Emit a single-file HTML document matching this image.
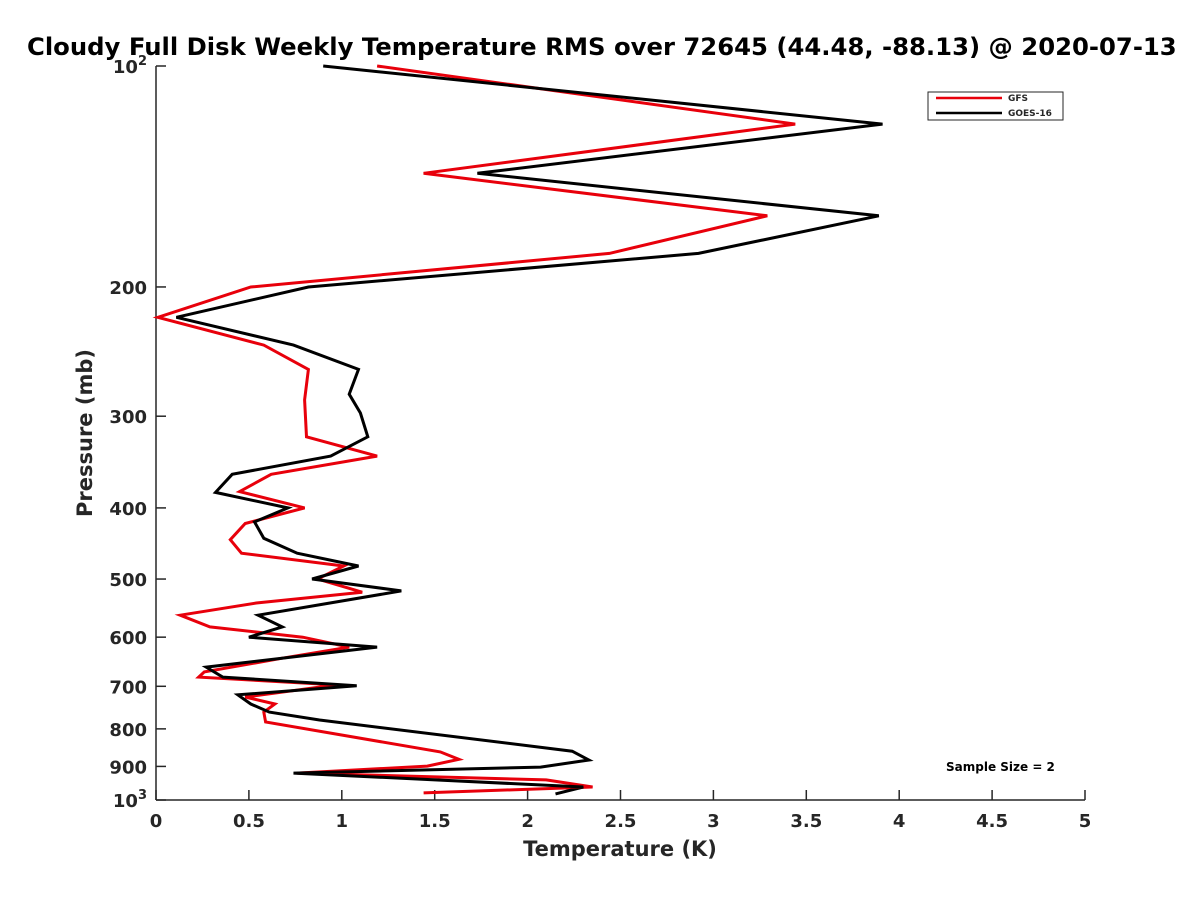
<!DOCTYPE html>
<html><head><meta charset="utf-8"><style>
body{margin:0;background:#fff}
svg text{font-family:"DejaVu Sans","Liberation Sans",sans-serif;font-weight:bold;fill:#262626}
</style></head><body>
<svg id="chart" width="1200" height="900" viewBox="0 0 1200 900" xmlns="http://www.w3.org/2000/svg">
<rect width="1200" height="900" fill="#fff"/>
<text x="27" y="55" font-size="24.3" style="fill:#000">Cloudy Full Disk Weekly Temperature RMS over 72645 (44.48, -88.13) @ 2020-07-13</text>
<g id="axes"></g>
<g id="series"></g>
<text x="620" y="856" font-size="21" text-anchor="middle">Temperature (K)</text>
<text transform="translate(92,433) rotate(-90)" font-size="21" text-anchor="middle">Pressure (mb)</text>
<g>
<rect x="928" y="92" width="135" height="28" fill="#fff" stroke="#262626" stroke-width="1"/>
<g><line x1="936" y1="98" x2="1002" y2="98" stroke="#e8000b" stroke-width="2.5"/><text x="1008" y="101" font-size="9">GFS</text></g>
<g><line x1="936" y1="113" x2="1002" y2="113" stroke="#000" stroke-width="2.5"/><text x="1008" y="116" font-size="9">GOES-16</text></g>
</g>
<text x="946" y="771" font-size="12" style="fill:#000">Sample Size = 2</text>
</svg>
<script>
const xTicks=[0,0.5,1,1.5,2,2.5,3,3.5,4,4.5,5];
const yTicks=[100,200,300,400,500,600,700,800,900,1000];
const yTickLabels=["10|2","200","300","400","500","600","700","800","900","10|3"];
const gfsT=[1.19,3.44,1.44,3.29,2.44,0.51,0.01,0.58,0.82,0.80,0.81,1.19,0.62,0.45,0.80,0.48,0.40,0.46,1.01,0.87,1.11,0.54,0.13,0.29,0.79,1.04,0.68,0.26,0.23,0.97,0.48,0.64,0.58,0.59,1.53,1.63,1.46,0.76,2.10,2.35,1.44];
const gfsP=[100,120,140,160,180,200,220,240,259,285,320,340,360,380,400,420,442,461,480,500,521,539,560,581,600,619,641,669,680,697,724,740,759,783,860,880,899,919,939,960,978];
const goesT=[0.90,3.91,1.73,3.89,2.92,0.82,0.11,0.74,1.09,1.04,1.10,1.14,0.94,0.41,0.32,0.71,0.53,0.58,0.76,1.09,0.84,1.32,0.55,0.68,0.50,1.19,0.27,0.36,1.08,0.44,0.51,0.61,0.88,2.24,2.33,2.07,0.74,2.30,2.15];
const goesP=[100,120,140,160,180,200,220,240,259,280,297,320,340,360,381,400,418,440,461,480,500,519,560,581,600,619,659,680,699,719,740,759,778,858,882,902,919,960,981];
const X0=156,X1=1085,Y0=66,Y1=800;
const xs=t=>X0+(t-0)/(5-0)*(X1-X0);
const ys=p=>Y0+(Math.log10(p)-2)*(Y1-Y0);
const NS="http://www.w3.org/2000/svg";
function mk(tag,attrs,parent){const e=document.createElementNS(NS,tag);for(const k in attrs)e.setAttribute(k,attrs[k]);parent.appendChild(e);return e;}
const ax=document.getElementById('axes');
let l=mk('line',{x1:X0,y1:Y0,x2:X0,y2:Y1,stroke:'#262626','stroke-width':1.5},ax);


l=mk('line',{x1:X0,y1:Y1,x2:X1,y2:Y1,stroke:'#262626','stroke-width':1.5},ax);


xTicks.forEach(t=>{const x=xs(t);
 const tk=mk('line',{x1:x,y1:Y1,x2:x,y2:Y1-10,stroke:'#262626','stroke-width':1.5},ax);
 
 
 const tx=mk('text',{x:x,y:Y1+27,'font-size':18,'text-anchor':'middle'},ax);tx.textContent=String(t);
 
 
});
yTicks.forEach((p,i)=>{const y=ys(p);
 const tk=mk('line',{x1:X0,y1:y,x2:X0+10,y2:y,stroke:'#262626','stroke-width':1.5},ax);
 
 
 const lab=yTickLabels[i];
 const tx=mk('text',{x:X0-9,y:y+7,'font-size':18,'text-anchor':'end'},ax);
 if(lab.indexOf('|')>=0){const parts=lab.split('|');
  const a=mk('tspan',{},tx);a.textContent=parts[0];
  const b=mk('tspan',{dy:-8,'font-size':13},tx);b.textContent=parts[1];
 } else tx.textContent=lab;
 
 
});
const sg=document.getElementById('series');
function line(T,P,color,name){
 const d=T.map((t,i)=>(i?'L':'M')+xs(t).toFixed(1)+','+ys(P[i]).toFixed(1)).join(' ');
 const pth=mk('path',{d:d,fill:'none',stroke:color,'stroke-width':3,'stroke-linejoin':'miter'},sg);
 
 
}
line(gfsT,gfsP,'#e8000b','gfs-line');
line(goesT,goesP,'#000','goes16-line');
</script>
</body></html>
